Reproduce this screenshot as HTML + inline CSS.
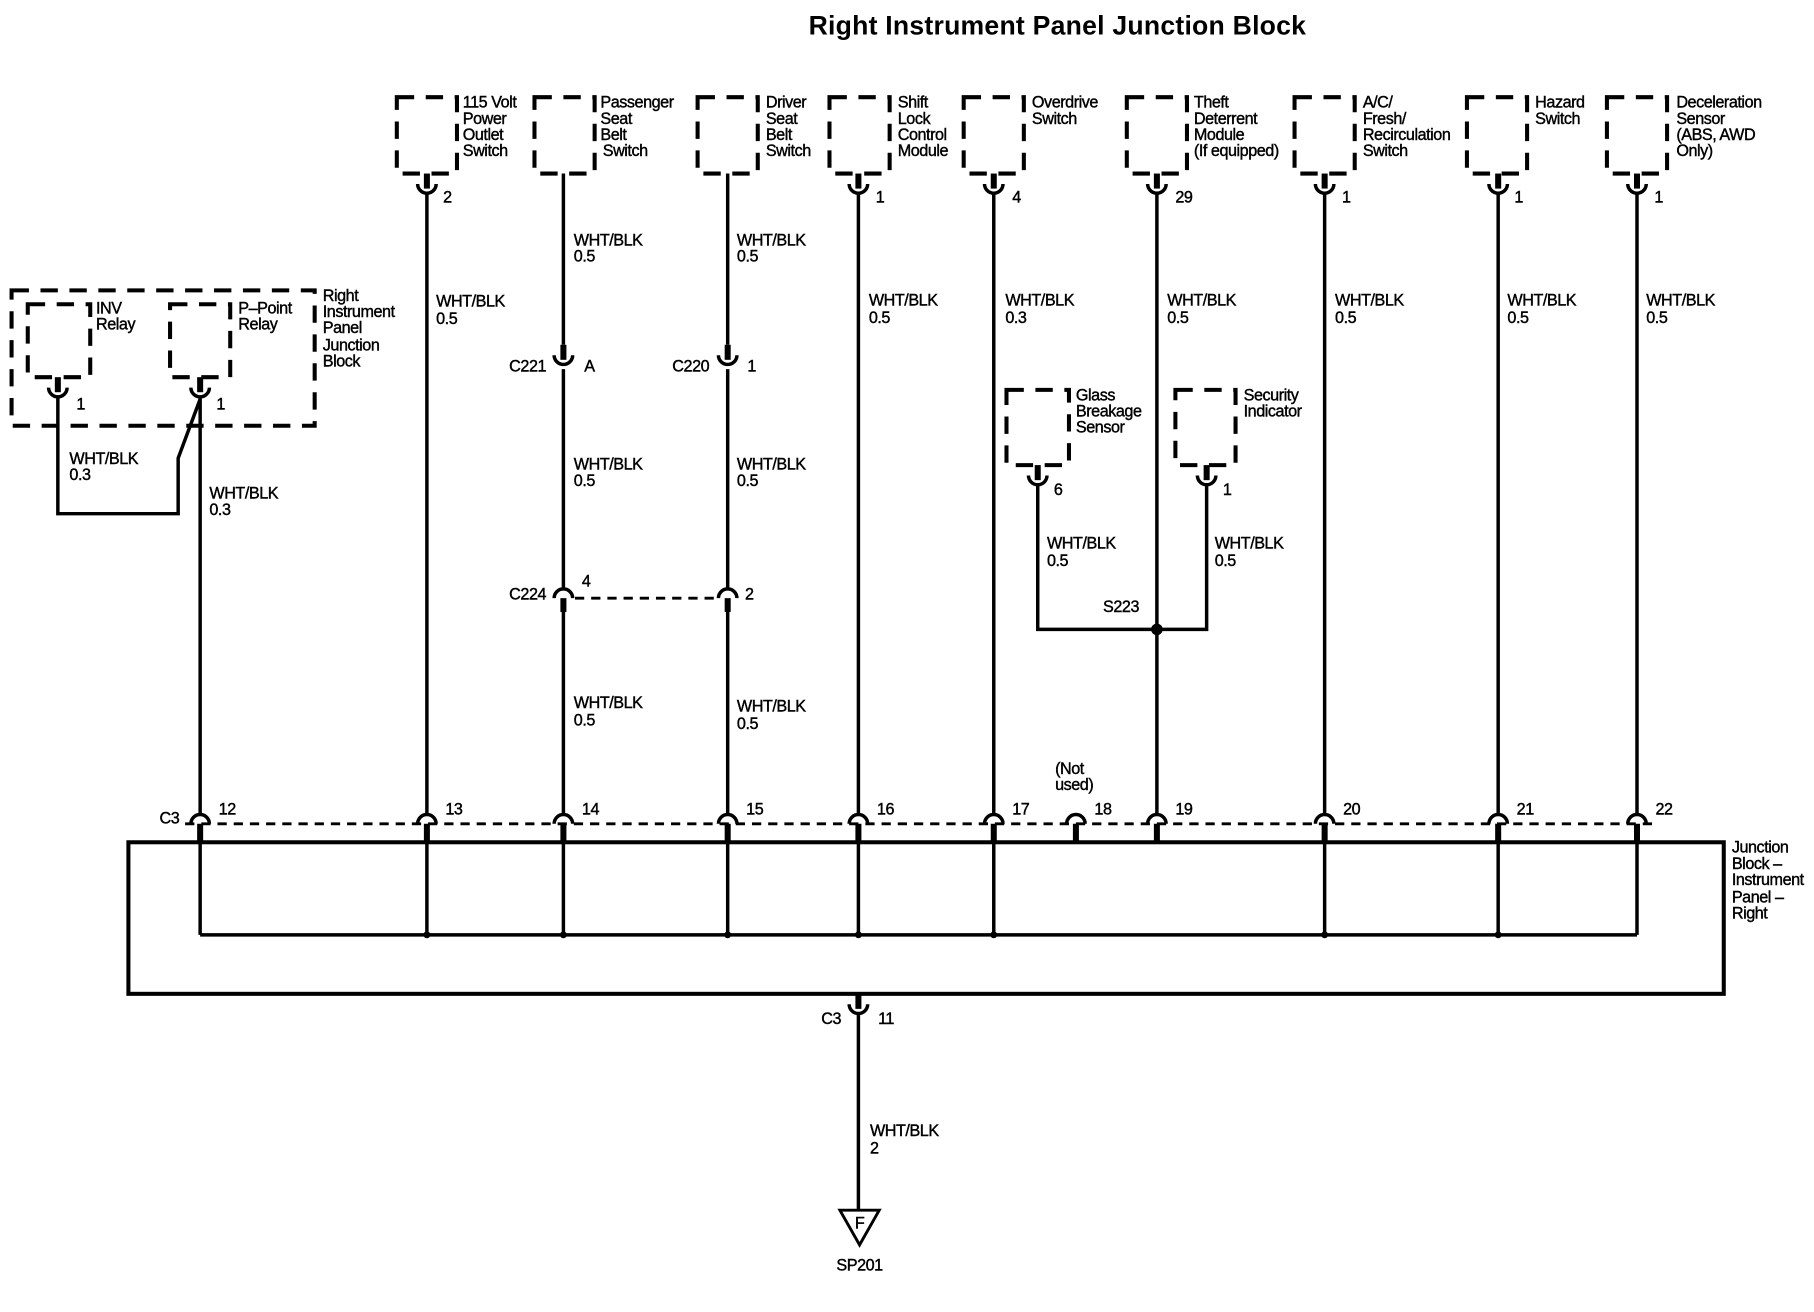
<!DOCTYPE html>
<html><head><meta charset="utf-8"><style>
html,body{margin:0;padding:0;background:#fff}
svg{display:block}
text{font-family:"Liberation Sans",Arial,sans-serif;font-size:14px;fill:#000;stroke:#000;stroke-width:0.35px;letter-spacing:-0.4px}
</style></head><body>
<svg width="1814" height="1312" viewBox="0 0 1568 1134" preserveAspectRatio="none" xmlns="http://www.w3.org/2000/svg">
<defs>
<g id="cup"><rect x="-2.6" y="0" width="5.2" height="13" fill="#000"/><path d="M-8,9 A8 8 0 0 0 8,9" fill="none" stroke="#000" stroke-width="3"/></g>
<g id="cap"><path d="M-8,712 A8 8 0 0 1 8,712" fill="none" stroke="#000" stroke-width="3"/><rect x="-2.6" y="712" width="5.2" height="16" fill="#000"/></g>
</defs>
<text x="914" y="30" text-anchor="middle" style="font-size:23px;font-weight:bold;letter-spacing:0.2px;stroke-width:0">Right Instrument Panel Junction Block</text>

<g fill="none" stroke="#000" stroke-width="3.5" stroke-dasharray="15,10">
<rect x="343" y="84" width="52" height="66"/>
<rect x="462" y="84" width="52" height="66"/>
<rect x="603" y="84" width="52" height="66"/>
<rect x="717" y="84" width="52" height="66"/>
<rect x="833" y="84" width="52" height="66"/>
<rect x="974" y="84" width="52" height="66"/>
<rect x="1119" y="84" width="52" height="66"/>
<rect x="1268" y="84" width="52" height="66"/>
<rect x="1389" y="84" width="52" height="66"/>
<rect x="10" y="251" width="262" height="117"/>
<rect x="24" y="263" width="54" height="63"/>
<rect x="147" y="263" width="52" height="63"/>
<rect x="870" y="337" width="54" height="65"/>
<rect x="1016" y="337" width="52" height="65"/>
</g>

<use href="#cup" x="369" y="150"/><use href="#cup" x="742" y="150"/><use href="#cup" x="859" y="150"/>
<use href="#cup" x="1000" y="150"/><use href="#cup" x="1145" y="150"/><use href="#cup" x="1295" y="150"/><use href="#cup" x="1415" y="150"/>
<use href="#cup" x="50" y="326"/><use href="#cup" x="173" y="326"/>
<use href="#cup" x="897" y="402"/><use href="#cup" x="1043" y="402"/>
<use href="#cup" x="487" y="298"/><use href="#cup" x="629" y="298"/>
<use href="#cup" x="742" y="859"/>

<use href="#cap" x="173"/><use href="#cap" x="369"/><use href="#cap" x="487"/><use href="#cap" x="629"/><use href="#cap" x="742"/>
<use href="#cap" x="859"/><use href="#cap" x="930"/><use href="#cap" x="1000"/><use href="#cap" x="1145"/><use href="#cap" x="1295"/><use href="#cap" x="1415"/>
<line x1="160" y1="712" x2="1432" y2="712" stroke="#000" stroke-width="2.5" stroke-dasharray="8,6"/>

<path d="M479,517 A8 8 0 0 1 495,517 M621,517 A8 8 0 0 1 637,517" fill="none" stroke="#000" stroke-width="3"/>
<rect x="484.4" y="517" width="5.2" height="12" fill="#000"/><rect x="626.4" y="517" width="5.2" height="12" fill="#000"/>
<line x1="497" y1="517" x2="619" y2="517" stroke="#000" stroke-width="2.5" stroke-dasharray="8,6"/>

<g stroke="#000" stroke-width="3" fill="none">
<line x1="369" y1="167" x2="369" y2="704"/>
<line x1="487" y1="150" x2="487" y2="298"/><line x1="487" y1="319" x2="487" y2="509"/><line x1="487" y1="527" x2="487" y2="704"/>
<line x1="629" y1="150" x2="629" y2="298"/><line x1="629" y1="319" x2="629" y2="509"/><line x1="629" y1="527" x2="629" y2="704"/>
<line x1="742" y1="167" x2="742" y2="704"/>
<line x1="859" y1="167" x2="859" y2="704"/>
<line x1="1000" y1="167" x2="1000" y2="704"/>
<line x1="1145" y1="167" x2="1145" y2="704"/>
<line x1="1295" y1="167" x2="1295" y2="704"/>
<line x1="1415" y1="167" x2="1415" y2="704"/>
<line x1="173" y1="343" x2="173" y2="704"/>
<polyline points="50,343 50,444 154,444 154,396 173,345"/>
<polyline points="897,419 897,544 1043,544 1043,419"/>
<rect x="111" y="728" width="1379" height="131" stroke-width="3.5"/>
<line x1="173" y1="808" x2="1415" y2="808"/>
<path d="M173,728V808M369,728V808M487,728V808M629,728V808M742,728V808M859,728V808M1145,728V808M1295,728V808M1415,728V808"/>
<line x1="742" y1="876" x2="742" y2="1046"/>
<polygon points="726,1046 760,1046 743,1076" stroke-width="2.5"/>
</g>
<g fill="#000">
<circle cx="1000" cy="544" r="5"/>
<circle cx="369" cy="808" r="3"/><circle cx="487" cy="808" r="3"/><circle cx="629" cy="808" r="3"/><circle cx="742" cy="808" r="3"/><circle cx="859" cy="808" r="3"/><circle cx="1145" cy="808" r="3"/><circle cx="1295" cy="808" r="3"/>
</g>

<text x="400" y="93">115 Volt</text><text x="400" y="107">Power</text><text x="400" y="121">Outlet</text><text x="400" y="135">Switch</text>
<text x="519" y="93">Passenger</text><text x="519" y="107">Seat</text><text x="519" y="121">Belt</text><text x="521" y="135">Switch</text>
<text x="662" y="93">Driver</text><text x="662" y="107">Seat</text><text x="662" y="121">Belt</text><text x="662" y="135">Switch</text>
<text x="776" y="93">Shift</text><text x="776" y="107">Lock</text><text x="776" y="121">Control</text><text x="776" y="135">Module</text>
<text x="892" y="93">Overdrive</text><text x="892" y="107">Switch</text>
<text x="1032" y="93">Theft</text><text x="1032" y="107">Deterrent</text><text x="1032" y="121">Module</text><text x="1032" y="135">(If equipped)</text>
<text x="1178" y="93">A/C/</text><text x="1178" y="107">Fresh/</text><text x="1178" y="121">Recirculation</text><text x="1178" y="135">Switch</text>
<text x="1327" y="93">Hazard</text><text x="1327" y="107">Switch</text>
<text x="1449" y="93">Deceleration</text><text x="1449" y="107">Sensor</text><text x="1449" y="121">(ABS, AWD</text><text x="1449" y="135">Only)</text>
<text x="83" y="271">INV</text><text x="83" y="285">Relay</text>
<text x="206" y="271">P–Point</text><text x="206" y="285">Relay</text>
<text x="279" y="260">Right</text><text x="279" y="274">Instrument</text><text x="279" y="288">Panel</text><text x="279" y="303">Junction</text><text x="279" y="317">Block</text>
<text x="930" y="346">Glass</text><text x="930" y="360">Breakage</text><text x="930" y="374">Sensor</text>
<text x="1075" y="346">Security</text><text x="1075" y="360">Indicator</text>
<text x="1497" y="737">Junction</text><text x="1497" y="751">Block –</text><text x="1497" y="765">Instrument</text><text x="1497" y="780">Panel –</text><text x="1497" y="794">Right</text>

<text x="383" y="175">2</text><text x="757" y="175">1</text><text x="875" y="175">4</text><text x="1016" y="175">29</text>
<text x="1160" y="175">1</text><text x="1309" y="175">1</text><text x="1430" y="175">1</text>
<text x="66" y="354">1</text><text x="187" y="354">1</text>
<text x="911" y="428">6</text><text x="1057" y="428">1</text>
<text x="472" y="321" text-anchor="end">C221</text><text x="505" y="321">A</text>
<text x="613" y="321" text-anchor="end">C220</text><text x="646" y="321">1</text>
<text x="472" y="518" text-anchor="end">C224</text><text x="503" y="507">4</text><text x="644" y="518">2</text>
<text x="969" y="529" text-anchor="middle">S223</text>
<text x="155" y="712" text-anchor="end">C3</text>
<text x="189" y="704">12</text><text x="385" y="704">13</text><text x="503" y="704">14</text><text x="645" y="704">15</text>
<text x="758" y="704">16</text><text x="875" y="704">17</text><text x="946" y="704">18</text><text x="1016" y="704">19</text>
<text x="1161" y="704">20</text><text x="1311" y="704">21</text><text x="1431" y="704">22</text>
<text x="912" y="669">(Not</text><text x="912" y="683">used)</text>
<text x="727" y="885" text-anchor="end">C3</text><text x="759" y="885">11</text>

<text x="377" y="265">WHT/BLK</text><text x="377" y="280">0.5</text>
<text x="496" y="212">WHT/BLK</text><text x="496" y="226">0.5</text>
<text x="637" y="212">WHT/BLK</text><text x="637" y="226">0.5</text>
<text x="751" y="264">WHT/BLK</text><text x="751" y="279">0.5</text>
<text x="869" y="264">WHT/BLK</text><text x="869" y="279">0.3</text>
<text x="1009" y="264">WHT/BLK</text><text x="1009" y="279">0.5</text>
<text x="1154" y="264">WHT/BLK</text><text x="1154" y="279">0.5</text>
<text x="1303" y="264">WHT/BLK</text><text x="1303" y="279">0.5</text>
<text x="1423" y="264">WHT/BLK</text><text x="1423" y="279">0.5</text>
<text x="496" y="406">WHT/BLK</text><text x="496" y="420">0.5</text>
<text x="637" y="406">WHT/BLK</text><text x="637" y="420">0.5</text>
<text x="496" y="612">WHT/BLK</text><text x="496" y="627">0.5</text>
<text x="637" y="615">WHT/BLK</text><text x="637" y="630">0.5</text>
<text x="60" y="401">WHT/BLK</text><text x="60" y="415">0.3</text>
<text x="181" y="431">WHT/BLK</text><text x="181" y="445">0.3</text>
<text x="905" y="474">WHT/BLK</text><text x="905" y="489">0.5</text>
<text x="1050" y="474">WHT/BLK</text><text x="1050" y="489">0.5</text>
<text x="752" y="982">WHT/BLK</text><text x="752" y="997">2</text>
<text x="743" y="1062" text-anchor="middle">F</text>
<text x="743" y="1098" text-anchor="middle">SP201</text>
</svg>
</body></html>
